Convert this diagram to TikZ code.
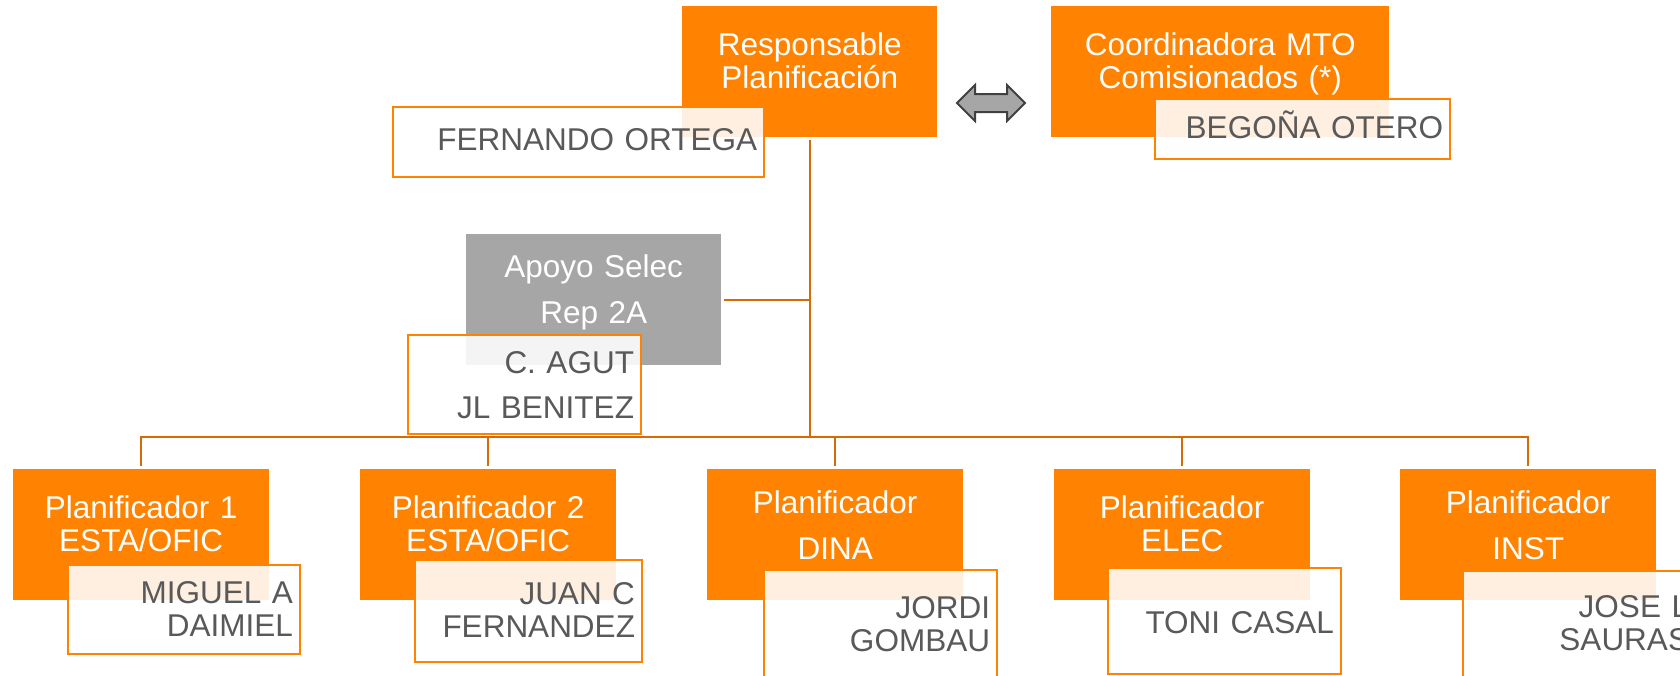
\documentclass[tikz,border=0pt]{standalone}
\usepackage{fontspec}
\setmainfont{Liberation Sans}
\usetikzlibrary{shapes.arrows}
\definecolor{naranja}{RGB}{255,130,0}
\definecolor{linea}{RGB}{212,106,8}
\definecolor{grisclaro}{RGB}{166,166,166}
\definecolor{grisoscuro}{RGB}{64,64,64}
\definecolor{textogris}{RGB}{89,89,89}
\begin{document}
\begin{tikzpicture}[
  x=1pt, y=-1pt,
  every node/.style={inner sep=0pt, font=\fontsize{31.5}{33.5}\selectfont},
  conector/.style={draw=linea, line width=2pt}
]
\tikzset{
  caja/.style={anchor=north west, fill=naranja, text=white, align=center,
    text width=256pt, text height=49pt, text depth=82pt},
  cajaalta/.style={caja, font=\fontsize{31.5}{46}\selectfont, text height=44pt, text depth=87pt},
  apoyo/.style={cajaalta, fill=grisclaro, text height=43pt, text depth=88pt},
  nombre/.style={anchor=north west, draw=naranja, line width=2pt, fill=white, fill opacity=0.88,
    text opacity=1, text=textogris, align=right, inner xsep=7pt, text width=219pt},
  flecha/.style={double arrow, draw=grisoscuro, fill=grisclaro, line width=2pt, inner ysep=8pt,
    minimum height=68pt, minimum width=34pt, double arrow head extend=9pt}
}
\useasboundingbox (0,0) rectangle (1680,675);
\clip (0,0) rectangle (1680,675);

% cajas principales
\node[caja, text width=255pt] (resp) at (682,6) {Responsable\\Planificación};
\node[caja, text width=338pt] (coord) at (1051,6) {Coordinadora MTO\\Comisionados (*)};
\node[apoyo, text width=255pt] (apoyo) at (466,234) {Apoyo Selec\\Rep 2A};
\node[caja] (p1) at (13,469) {Planificador 1\\ESTA/OFIC};
\node[caja] (p2) at (360,469) {Planificador 2\\ESTA/OFIC};
\node[cajaalta] (p3) at (707,469) {Planificador\\DINA};
\node[caja] (p4) at (1054,469) {Planificador\\ELEC};
\node[cajaalta] (p5) at (1400,469) {Planificador\\INST};

% nombres
\node[nombre, text width=357pt, text height=43pt, text depth=27pt] (fer) at (392,106) {FERNANDO ORTEGA};
\node[nombre, text width=281pt, text height=39pt, text depth=21pt] (beg) at (1154,98) {BEGOÑA OTERO};
\node[nombre, font=\fontsize{31.5}{45}\selectfont, text height=38pt, text depth=61pt] (agut) at (407,334) {C. AGUT\\JL BENITEZ};
\node[nombre, text width=218pt, text height=38pt, text depth=51pt] (n1) at (67,564) {MIGUEL A\\DAIMIEL};
\node[nombre, text width=213pt, text height=44pt, text depth=58pt] (n2) at (414,559) {JUAN C\\FERNANDEZ};
\node[nombre, text height=48pt, text depth=80pt] (n3) at (763,569) {JORDI\\GOMBAU};
\node[nombre, text height=65pt, text depth=41pt] (n4) at (1107,567) {TONI CASAL};
\node[nombre, text height=46pt, text depth=80pt] (n5) at (1462,570) {JOSE L\\SAURAS};

\node[flecha] (enlace) at (991,103) {};

% conectores
\coordinate (barra) at ([yshift=32pt]resp.south |- p1.north);
\draw[conector, shorten <=3pt] (resp.south) -- (barra);
\draw[conector, shorten <=3pt] (apoyo.east) -- (apoyo.east -| resp.south);
\foreach \p in {p1,p2,p3,p4,p5}
  \draw[conector, shorten >=3pt] (barra) -| (\p.north);
\end{tikzpicture}
\end{document}
